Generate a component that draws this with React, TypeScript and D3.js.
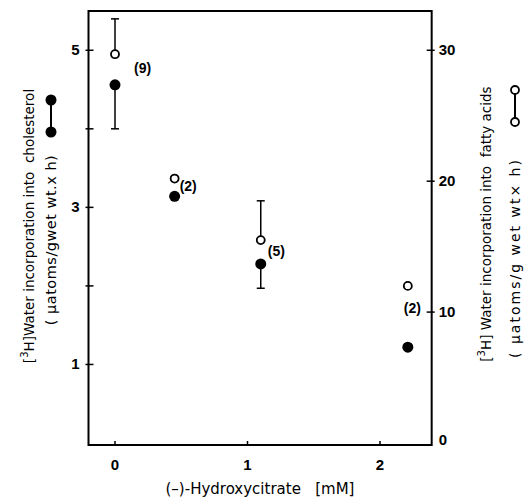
import React from 'react';
import { scaleLinear } from 'd3';

// hydroxycitrate concentration (mM)
const conc = [0, 0.45, 1.1, 2.21];
// cholesterol (left axis), filled circles
const cholesterol = [4.56, 3.14, 2.28, 1.22];
const cholErrLow = [4.0, null, 1.97, null];
// fatty acids (right axis), open circles
const fattyAcids = [29.7, 20.2, 15.5, 12.0];
const faErrHigh = [32.4, null, 18.5, null];
const nLabels = ['(9)', '(2)', '(5)', '(2)'];

const xTicks = [0, 1, 2];
const leftTicks = [1, 2, 3, 4, 5];
const leftLabels = [1, 3, 5];
const rightTicks = [0, 10, 20, 30];

const W = 529;
const H = 501;
const FONT = '"Liberation Sans", Arial, sans-serif';
const TFONT = '"DejaVu Sans", sans-serif';

export default function App() {
  const x = scaleLinear().domain([0, 2]).range([115, 380]);
  const yL = scaleLinear().domain([0, 5.5]).range([443, 11]);
  const yR = scaleLinear().domain([0, 33]).range([443, 11]);

  const left = x(-0.2);
  const right = x(2.39);
  const top = yL(5.5);
  const bottom = 445;

  // label offsets relative to the filled point
  const labelPos = [
    { dx: 19, dy: -12 },
    { dx: 5, dy: -5 },
    { dx: 7, dy: -8 },
    { dx: -4, dy: -34 },
  ];

  return (
    <svg
      width={W}
      height={H}
      style={{ position: 'absolute', left: 0, top: 0, background: '#fff' }}
      fontFamily={FONT}
    >
      {/* frame */}
      <rect
        x={left}
        y={top}
        width={right - left}
        height={bottom - top}
        fill="none"
        stroke="#000"
        strokeWidth={2}
      />

      {/* x ticks */}
      {xTicks.map((t) => (
        <g key={'x' + t}>
          <line x1={x(t)} x2={x(t)} y1={bottom} y2={bottom - 4} stroke="#000" strokeWidth={1.5} />
          <text x={x(t)} y={bottom + 25} textAnchor="middle" fontSize={15} fontWeight="bold">
            {t}
          </text>
        </g>
      ))}
      <text x={260} y={494} textAnchor="middle" fontSize={15} fontFamily={TFONT}>
        (–)-Hydroxycitrate{'\u00a0\u00a0\u00a0'}[mM]
      </text>

      {/* left ticks */}
      {leftTicks.map((t) => (
        <g key={'l' + t}>
          <line x1={left - 3} x2={left + 5} y1={yL(t)} y2={yL(t)} stroke="#000" strokeWidth={1.5} />
          {leftLabels.includes(t) && (
            <text x={left - 9} y={yL(t) + 5} textAnchor="end" fontSize={15} fontWeight="bold">
              {t}
            </text>
          )}
        </g>
      ))}

      {/* right ticks */}
      {rightTicks.map((t) => (
        <g key={'r' + t}>
          {t > 0 && (
            <line x1={right - 5} x2={right + 3} y1={yR(t)} y2={yR(t)} stroke="#000" strokeWidth={1.5} />
          )}
          <text x={right + 7} y={t > 0 ? yR(t) + 5 : bottom} textAnchor="start" fontSize={15} fontWeight="bold">
            {t}
          </text>
        </g>
      ))}

      {/* error bars */}
      {conc.map((c, i) => (
        <g key={'e' + i} stroke="#000" strokeWidth={1.5}>
          {cholErrLow[i] != null && (
            <>
              <line x1={x(c)} x2={x(c)} y1={yL(cholesterol[i])} y2={yL(cholErrLow[i] as number)} />
              <line x1={x(c) - 4} x2={x(c) + 4} y1={yL(cholErrLow[i] as number)} y2={yL(cholErrLow[i] as number)} />
            </>
          )}
          {faErrHigh[i] != null && (
            <>
              <line x1={x(c)} x2={x(c)} y1={yR(fattyAcids[i])} y2={yR(faErrHigh[i] as number)} />
              <line x1={x(c) - 4} x2={x(c) + 4} y1={yR(faErrHigh[i] as number)} y2={yR(faErrHigh[i] as number)} />
            </>
          )}
        </g>
      ))}

      {/* points */}
      {conc.map((c, i) => (
        <g key={'p' + i}>
          <circle cx={x(c)} cy={yR(fattyAcids[i])} r={4} fill="#fff" stroke="#000" strokeWidth={1.8} />
          <circle cx={x(c)} cy={yL(cholesterol[i])} r={5.5} fill="#000" />
          <text
            x={x(c) + labelPos[i].dx}
            y={yL(cholesterol[i]) + labelPos[i].dy}
            fontSize={14}
            fontWeight="bold"
          >
            {nLabels[i]}
          </text>
        </g>
      ))}

      {/* left axis title */}
      <g transform="translate(34,226) rotate(-90)" fontFamily={TFONT}>
        <text textAnchor="middle" fontSize={13.5}>
          [<tspan fontSize={10} dy={-6}>3</tspan>
          <tspan dy={6}>H]Water incorporation into{'\u00a0\u00a0'}cholesterol</tspan>
        </text>
      </g>
      <g transform="translate(56,240) rotate(-90)" fontFamily={TFONT}>
        <text textAnchor="middle" fontSize={14.5} letterSpacing={0.5}>
          ( μatoms/gwet wt.x h)
        </text>
      </g>
      <line x1={51} x2={51} y1={100} y2={132} stroke="#000" strokeWidth={2} />
      <circle cx={51} cy={132} r={5.5} fill="#000" />
      <circle cx={51} cy={100} r={5.5} fill="#000" />

      {/* right axis title */}
      <g transform="translate(491,224) rotate(-90)" fontFamily={TFONT}>
        <text textAnchor="middle" fontSize={13.5}>
          [<tspan fontSize={10} dy={-6}>3</tspan>
          <tspan dy={6}>H] Water incorporation into{'\u00a0\u00a0'}fatty acids</tspan>
        </text>
      </g>
      <g transform="translate(520,258) rotate(-90)" fontFamily={TFONT}>
        <text textAnchor="middle" fontSize={14} letterSpacing={2}>
          ( μatoms/g wet wt× h)
        </text>
      </g>
      <line x1={515} x2={515} y1={90} y2={122} stroke="#000" strokeWidth={2} />
      <circle cx={515} cy={122} r={4} fill="#fff" stroke="#000" strokeWidth={1.8} />
      <circle cx={515} cy={90} r={4} fill="#fff" stroke="#000" strokeWidth={1.8} />
    </svg>
  );
}
